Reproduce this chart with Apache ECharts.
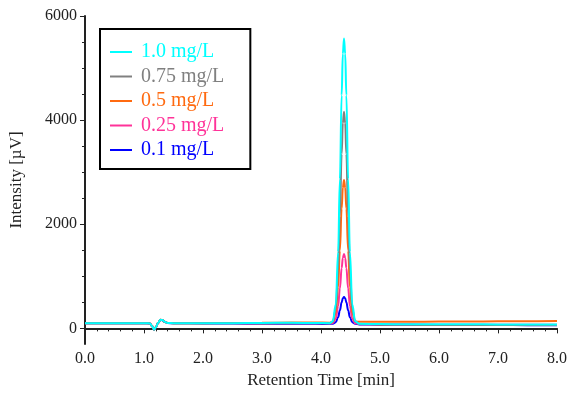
<!DOCTYPE html>
<html style="height: 100%">
<head>
<meta charset="UTF-8">
<title>Chromatogram</title>
<script src="https://cdn.jsdelivr.net/npm/echarts@6.0.0/dist/echarts.min.js"></script>
</head>
<body style="height: 100%;margin: 0;background:#fff">
<div id="chart" style="width:578px;height:397px"></div>
<script type="text/javascript">
// retention time [min], shared by every trace
var times = [0, 0.3, 0.6, 0.9,
	1.05, 1.1, 1.14, 1.17, 1.2, 1.24, 1.28, 1.31, 1.35, 1.4, 1.5,
	2.0, 2.5, 3.0, 3.5, 3.9,
	4.15, 4.20, 4.25, 4.29, 4.32, 4.35, 4.37, 4.39, 4.41, 4.43, 4.46, 4.49, 4.53, 4.58, 4.65,
	5.0, 5.5, 6.0, 6.5, 7.0, 7.5, 8.0];

// intensity [uV]
var cyan1_0 = [100,100,100,100, 100,95,40,-25,20,110,165,160,125,105,100, 98,100,105,108,102,
	100,138,461,1468,2868,4476,5275,5570,5275,4476,2868,1468,461,138,90, 82,80,78,78,76,75,75];
var gray0_75 = [100,100,100,100, 100,95,40,-25,20,110,165,160,125,105,100, 98,98,95,100,100,
	100,128,368,1115,2154,3348,3941,4160,3941,3348,2154,1115,368,128,85, 70,68,65,66,65,64,65];
var orange0_5 = [100,100,100,100, 100,95,40,-25,20,110,165,160,125,105,100, 100,102,108,112,112,
	110,129,291,795,1496,2302,2702,2850,2702,2302,1496,795,291,135,125, 125,128,130,132,135,138,140];
var pink0_25 = [100,100,100,100, 100,95,40,-25,20,110,165,160,125,105,100, 98,97,95,98,98,
	95,104,183,428,768,1159,1353,1430,1353,1159,768,428,183,100,80, 75,73,72,72,72,70,70];
var blue0_1 = [98,98,98,98, 98,93,38,-27,18,108,163,158,123,103,98, 95,92,88,88,88,
	85,89,119,215,348,501,577,605,577,501,348,215,119,89,75, 70,68,66,65,64,62,62];

var names = ['1.0 mg/L', '0.75 mg/L', '0.5 mg/L', '0.25 mg/L', '0.1 mg/L'];
var colors = ['#00FFFF', '#808080', '#FF6A10', '#FF3399', '#0000FF'];
var values = [cyan1_0, gray0_75, orange0_5, pink0_25, blue0_1];

var yMajor = [0, 2000, 4000, 6000];
var yMinor = [500, 1000, 1500, 2500, 3000, 3500, 4500, 5000, 5500];

var font = 'Liberation Serif';

function pairs(vals){
	var out = [];
	for (var i = 0; i < times.length; i++) out.push([times[i], vals[i]]);
	return out;
}

// draw the lowest trace first so cyan ends on top
var series = [];
for (var k = values.length - 1; k >= 0; k--) {
	series.push({
		name: names[k],
		type: 'line',
		data: pairs(values[k]),
		showSymbol: false,
		smooth: 0.4,
		smoothMonotone: 'x',
		lineStyle: { color: colors[k], width: 2 },
		itemStyle: { color: colors[k] }
	});
}

var legendData = [];
for (var j = 0; j < names.length; j++) {
	legendData.push({ name: names[j], textStyle: { color: colors[j] } });
}

var myChart = echarts.init(document.getElementById('chart'));
var option = {
	animation: false,
	grid: { left: 85, right: 21, top: 16, bottom: 53 },
	legend: {
		data: legendData,
		orient: 'vertical',
		left: 100,
		top: 29,
		padding: [13, 26, 9, 10],
		itemGap: 4.5,
		itemWidth: 22,
		itemHeight: 2,
		icon: 'rect',
		borderColor: '#000',
		borderWidth: 2,
		textStyle: { fontFamily: font, fontSize: 20, lineHeight: 20, padding: [0, 0, 0, 4] }
	},
	xAxis: {
		type: 'value',
		min: 0, max: 8, interval: 1,
		name: 'Retention Time [min]',
		nameLocation: 'middle',
		nameGap: 27,
		nameTextStyle: { fontFamily: font, fontSize: 17, color: '#222' },
		axisLine: { lineStyle: { color: '#222', width: 2 } },
		axisTick: { length: 5, lineStyle: { color: '#222' } },
		minorTick: { show: true, splitNumber: 5, length: 3, lineStyle: { color: '#222' } },
		splitLine: { show: false },
		axisLabel: { fontFamily: font, fontSize: 16, color: '#222', margin: 7,
			formatter: function(v){ return v.toFixed(1); } }
	},
	yAxis: [{
		type: 'value',
		min: -300, max: 6000,
		name: 'Intensity [\u00B5V]',
		nameLocation: 'middle',
		nameGap: 60,
		nameTextStyle: { fontFamily: font, fontSize: 17, color: '#222' },
		axisLine: { show: true, lineStyle: { color: '#222', width: 2 } },
		axisTick: { show: true, length: 5, customValues: yMajor, lineStyle: { color: '#222' } },
		splitLine: { show: false },
		axisLabel: { customValues: yMajor, fontFamily: font, fontSize: 16, color: '#222', margin: 8,
			formatter: function(v){ return String(v); } }
	}, {
		// minor ticks only
		type: 'value',
		position: 'left',
		min: -300, max: 6000,
		axisLine: { show: false },
		axisTick: { show: true, length: 3, customValues: yMinor, lineStyle: { color: '#222' } },
		axisLabel: { show: false },
		splitLine: { show: false }
	}],
	series: series
};
myChart.setOption(option);
</script>
</body>
</html>
